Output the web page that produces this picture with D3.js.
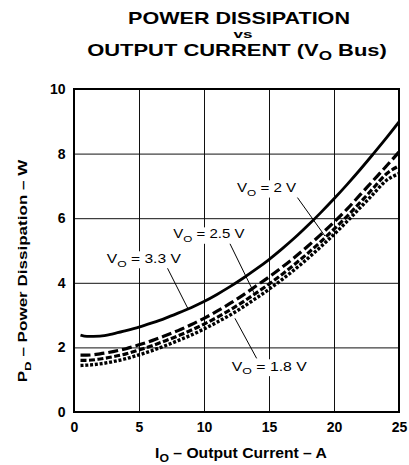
<!DOCTYPE html>
<html>
<head>
<meta charset="utf-8">
<script src="https://cdn.jsdelivr.net/npm/d3@7"></script>
<style>
	body { margin: 0; background: #fff; }
	svg { display: block; }
</style>
</head>
<body>
<svg id="chart" width="409" height="465"></svg>
<script>
/* global d3 */

// Output current (A) and power dissipation (W) per output voltage
var current = [0.5, 1, 2, 3, 4, 5, 6, 7, 8, 9, 10, 11, 12, 13, 14, 15, 16, 17, 18, 19, 20, 21, 22, 23, 24, 25];
var pd33 = [2.38, 2.34, 2.35, 2.42, 2.52, 2.63, 2.76, 2.90, 3.06, 3.23, 3.42, 3.64, 3.88, 4.14, 4.42, 4.72, 5.05, 5.40, 5.78, 6.18, 6.60, 7.04, 7.50, 7.98, 8.47, 8.98];
var pd25 = [1.76, 1.76, 1.80, 1.87, 1.96, 2.08, 2.21, 2.36, 2.52, 2.70, 2.90, 3.12, 3.36, 3.62, 3.90, 4.18, 4.48, 4.80, 5.14, 5.50, 5.88, 6.28, 6.72, 7.16, 7.60, 8.05];
var pd20 = [1.60, 1.60, 1.64, 1.71, 1.80, 1.92, 2.05, 2.20, 2.36, 2.53, 2.72, 2.93, 3.16, 3.41, 3.68, 3.96, 4.26, 4.58, 4.92, 5.28, 5.66, 6.06, 6.48, 6.92, 7.36, 7.62];
var pd18 = [1.44, 1.45, 1.49, 1.56, 1.65, 1.77, 1.90, 2.05, 2.21, 2.38, 2.57, 2.78, 3.00, 3.25, 3.52, 3.80, 4.10, 4.42, 4.76, 5.12, 5.50, 5.90, 6.32, 6.74, 7.16, 7.38];

var xTicks = [0, 5, 10, 15, 20, 25];
var yTicks = [0, 2, 4, 6, 8, 10];

// Kurvenbeschriftungen: Text, Position und Hinweislinie (in Datenkoordinaten)
var labelVolts = ['3.3 V', '2.5 V', '2 V', '1.8 V'];
var labelAt = [[2.52, 4.62], [7.64, 5.38], [12.54, 6.81], [12.13, 1.28]];
var leaderFrom = [[7.13, 4.50], [11.85, 5.33], [17.15, 6.66], [14.05, 1.66]];
var leaderTo = [[8.79, 3.18], [13.87, 3.67], [19.30, 5.45], [12.38, 2.90]];

var svg = d3.select('#chart');
var font = 'Liberation Sans, Arial, Helvetica, sans-serif';
var plot = {left: 74, right: 399, top: 89, bottom: 412};

var x = d3.scaleLinear().domain([0, 25]).range([plot.left, plot.right]);
var y = d3.scaleLinear().domain([0, 10]).range([plot.bottom, plot.top]);

/* addText: Text mit Tiefstellung, optional auf eine Breite gestreckt */
function addText (parent, px, py, parts, o) {
	var g = parent.append('g')
		.attr('transform', 'translate(' + px + ',' + py + ')' + (o.rotate ? ' rotate(' + o.rotate + ')' : ''));
	var t = g.append('text')
		.attr('text-anchor', o.anchor || 'start')
		.attr('font-family', font)
		.attr('font-size', o.size)
		.attr('font-weight', o.bold ? 'bold' : 'normal')
		.attr('fill', '#000');
	var shifted = false;
	parts.forEach(function (p) {
		var ts = t.append('tspan').text(p[0]);
		if (p[1]) {
			ts.attr('font-size', o.size * 0.78).attr('dy', o.size * 0.3);
			shifted = true;
		} else if (shifted) {
			ts.attr('dy', -o.size * 0.3);
			shifted = false;
		}
	});
	if (o.width) {
		var w = t.node().getBBox().width;
		t.attr('transform', 'scale(' + (o.width / w) + ',1)');
	}
	if (o.bg) {
		var b = g.node().getBBox();
		g.insert('rect', 'text')
			.attr('x', b.x - 1).attr('y', b.y)
			.attr('width', b.width + 2).attr('height', b.height)
			.attr('fill', '#fff');
	}
	return g;
}

// Titel
addText(svg, 239, 24, [['POWER DISSIPATION']], {anchor: 'middle', size: 16.5, bold: true, width: 222});
addText(svg, 243, 38, [['vs']], {anchor: 'middle', size: 11.5, bold: true, width: 19});
addText(svg, 237, 55.5, [['OUTPUT CURRENT (V'], ['O', true], [' Bus)']], {anchor: 'middle', size: 16.5, bold: true, width: 300});

// Gitter und Achsenbeschriftung
var gx = svg.append('g')
	.attr('transform', 'translate(0,' + plot.bottom + ')')
	.call(d3.axisBottom(x).tickValues(xTicks).tickSize(-(plot.bottom - plot.top)).tickPadding(10));
var gy = svg.append('g')
	.attr('transform', 'translate(' + plot.left + ',0)')
	.call(d3.axisLeft(y).tickValues(yTicks).tickSize(-(plot.right - plot.left)).tickPadding(8.5));
[gx, gy].forEach(function (g) {
	g.select('.domain').remove();
	g.selectAll('line').attr('stroke', '#111').attr('stroke-width', 1);
	g.selectAll('text')
		.attr('font-family', font).attr('font-size', 14).attr('font-weight', 'bold').attr('fill', '#000');
});

addText(svg, 241, 458, [['I'], ['O', true], [' \u2013 Output Current \u2013 A']], {anchor: 'middle', size: 14, bold: true, width: 172});
addText(svg, 27, 271, [['P'], ['D', true], [' \u2013 Power Dissipation \u2013 W']], {anchor: 'middle', size: 12.5, bold: true, width: 223, rotate: -90});

// Kurven
svg.append('clipPath').attr('id', 'plotclip').append('rect')
	.attr('x', plot.left).attr('y', plot.top)
	.attr('width', plot.right - plot.left).attr('height', plot.bottom - plot.top);

var line = d3.line()
	.x(function (d) { return x(d[0]); })
	.y(function (d) { return y(d[1]); })
	.curve(d3.curveMonotoneX);

var series = [
	{values: pd18, dash: '3,1.8', width: 3.4},
	{values: pd20, dash: '6,2.5', width: 3.2},
	{values: pd25, dash: '10,4', width: 3.2},
	{values: pd33, dash: null, width: 2.8}
];

var gCurves = svg.append('g').attr('clip-path', 'url(#plotclip)');
series.forEach(function (s) {
	gCurves.append('path')
		.datum(current.map(function (c, i) { return [c, s.values[i]]; }))
		.attr('d', line)
		.attr('fill', 'none')
		.attr('stroke', '#000')
		.attr('stroke-width', s.width)
		.attr('stroke-dasharray', s.dash);
});

// Hinweislinien und Beschriftungen
var labelWidths = [75, 72, 60, 76];
labelVolts.forEach(function (v, i) {
	svg.append('line')
		.attr('x1', x(leaderFrom[i][0])).attr('y1', y(leaderFrom[i][1]))
		.attr('x2', x(leaderTo[i][0])).attr('y2', y(leaderTo[i][1]))
		.attr('stroke', '#000').attr('stroke-width', 1);
});
labelVolts.forEach(function (v, i) {
	addText(svg, x(labelAt[i][0]), y(labelAt[i][1]), [['V'], ['O', true], [' = ' + v]], {size: 12.5, width: labelWidths[i], bg: true});
});

// Rahmen
svg.append('rect')
	.attr('x', plot.left).attr('y', plot.top)
	.attr('width', plot.right - plot.left).attr('height', plot.bottom - plot.top)
	.attr('fill', 'none').attr('stroke', '#000').attr('stroke-width', 2);
</script>
</body>
</html>
